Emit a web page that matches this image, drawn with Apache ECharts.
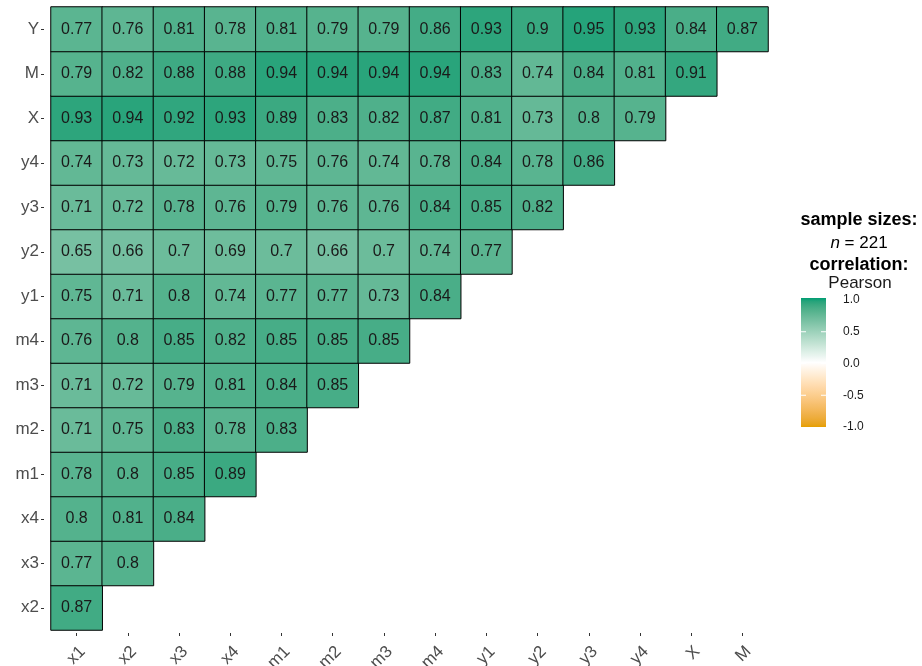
<!DOCTYPE html>
<html><head><meta charset="utf-8">
<script src="https://cdn.jsdelivr.net/npm/echarts@6/dist/echarts.min.js"></script>
<style>html,body{margin:0;padding:0;background:#fff}#c{width:922px;height:666px}</style>
</head><body><div id="c"></div>
<script>
const xCats = ['x1','x2','x3','x4','m1','m2','m3','m4','y1','y2','y3','y4','X','M'];
const yCats = ['x2','x3','x4','m1','m2','m3','m4','y1','y2','y3','y4','X','M','Y'];
const rowY  = [0.77,0.76,0.81,0.78,0.81,0.79,0.79,0.86,0.93,0.9,0.95,0.93,0.84,0.87];
const rowM  = [0.79,0.82,0.88,0.88,0.94,0.94,0.94,0.94,0.83,0.74,0.84,0.81,0.91];
const rowX  = [0.93,0.94,0.92,0.93,0.89,0.83,0.82,0.87,0.81,0.73,0.8,0.79];
const rowY4 = [0.74,0.73,0.72,0.73,0.75,0.76,0.74,0.78,0.84,0.78,0.86];
const rowY3 = [0.71,0.72,0.78,0.76,0.79,0.76,0.76,0.84,0.85,0.82];
const rowY2 = [0.65,0.66,0.7,0.69,0.7,0.66,0.7,0.74,0.77];
const rowY1 = [0.75,0.71,0.8,0.74,0.77,0.77,0.73,0.84];
const rowM4 = [0.76,0.8,0.85,0.82,0.85,0.85,0.85];
const rowM3 = [0.71,0.72,0.79,0.81,0.84,0.85];
const rowM2 = [0.71,0.75,0.83,0.78,0.83];
const rowM1 = [0.78,0.8,0.85,0.89];
const rowX4 = [0.8,0.81,0.84];
const rowX3 = [0.77,0.8];
const rowX2 = [0.87];
const legendTicks = ['1.0','0.5','0.0','-0.5','-1.0'];

const rows = {Y:rowY,M:rowM,X:rowX,y4:rowY4,y3:rowY3,y2:rowY2,y1:rowY1,m4:rowM4,m3:rowM3,m2:rowM2,m1:rowM1,x4:rowX4,x3:rowX3,x2:rowX2};
const data = [];
yCats.forEach((yc, yi) => {
  rows[yc].forEach((v, xi) => data.push([xi, yi, v]));
});

// Lab interpolation helpers (ggplot-like gradient)
function hex2rgb(h){return [1,3,5].map(i=>parseInt(h.substr(i,2),16));}
function s2l(c){c/=255;return c<=0.04045?c/12.92:Math.pow((c+0.055)/1.055,2.4);}
function l2s(c){c=c<=0.0031308?12.92*c:1.055*Math.pow(c,1/2.4)-0.055;return Math.max(0,Math.min(255,Math.round(c*255)));}
const WP=[0.95047,1,1.08883];
function f(t){return t>0.008856?Math.cbrt(t):7.787*t+16/116;}
function fi(t){return t>0.206893?t*t*t:(t-16/116)/7.787;}
function rgb2lab(rgb){const [r,g,b]=rgb.map(s2l);
  const X=(0.4124*r+0.3576*g+0.1805*b)/WP[0],Y=(0.2126*r+0.7152*g+0.0722*b)/WP[1],Z=(0.0193*r+0.1192*g+0.9505*b)/WP[2];
  return [116*f(Y)-16,500*(f(X)-f(Y)),200*(f(Y)-f(Z))];}
function lab2hex(L,a,b){const fy=(L+16)/116,fx=fy+a/500,fz=fy-b/200;
  const X=fi(fx)*WP[0],Y=fi(fy)*WP[1],Z=fi(fz)*WP[2];
  const r=3.2406*X-1.5372*Y-0.4986*Z,g=-0.9689*X+1.8758*Y+0.0415*Z,bb=0.0557*X-0.2040*Y+1.0570*Z;
  return '#'+[r,g,bb].map(l2s).map(v=>v.toString(16).padStart(2,'0')).join('');}
function labRamp(c1,c2,n){const A=rgb2lab(hex2rgb(c1)),B=rgb2lab(hex2rgb(c2));const out=[];
  for(let i=0;i<=n;i++){const t=i/n;out.push(lab2hex(A[0]+(B[0]-A[0])*t,A[1]+(B[1]-A[1])*t,A[2]+(B[2]-A[2])*t));}return out;}
const lowCol='#E69F00', midCol='#FFFFFF', highCol='#009E73';
const ramp = labRamp(lowCol,midCol,20).concat(labRamp(midCol,highCol,20).slice(1));

const FONT = '"Liberation Sans", Arial, sans-serif';
const chart = echarts.init(document.getElementById('c'));

// legend graphics
const barX = 801, barTop = 298, barH = 129, barW = 25;
const gradStops = ramp.slice().reverse().map((c,i,arr)=>({offset:i/(arr.length-1), color:c}));
const g = [
  {type:'text', style:{x:859, y:220, text:'sample sizes:', font:'bold 18px '+FONT, fill:'#000', align:'center', verticalAlign:'middle'}},
  {type:'text', style:{x:859, y:243, rich:{i:{fontStyle:'italic', fontSize:17, fontFamily:FONT, fill:'#000'}, n:{fontSize:17, fontFamily:FONT, fill:'#000'}}, text:'{i|n}{n| = 221}', align:'center', verticalAlign:'middle'}},
  {type:'text', style:{x:859, y:265, text:'correlation:', font:'bold 18px '+FONT, fill:'#000', align:'center', verticalAlign:'middle'}},
  {type:'text', style:{x:860, y:283, text:'Pearson', font:'17px '+FONT, fill:'#1a1a1a', align:'center', verticalAlign:'middle'}},
  {type:'rect', shape:{x:barX, y:barTop, width:barW, height:barH}, style:{fill:new echarts.graphic.LinearGradient(0,0,0,1,gradStops)}}
];
legendTicks.forEach((t, i) => {
  const y = barTop + 2 + i * (barH - 2) / 4;
  g.push({type:'text', style:{x:843, y:y, text:t, font:'12px '+FONT, fill:'#1a1a1a', align:'left', verticalAlign:'middle'}});
  if (i > 0 && i < 4) {
    g.push({type:'line', shape:{x1:barX, y1:y, x2:barX+5, y2:y}, style:{stroke:'#fff', lineWidth:1}});
    g.push({type:'line', shape:{x1:barX+barW-5, y1:y, x2:barX+barW, y2:y}, style:{stroke:'#fff', lineWidth:1}});
  }
});

chart.setOption({
  animation:false,
  backgroundColor:'#fff',
  grid:{left:51, right:154, top:7, bottom:36, containLabel:false, outerBoundsMode:'none'},
  xAxis:{type:'category', data:xCats, offset:3, axisLine:{show:false}, splitLine:{show:false},
    axisTick:{show:true, alignWithLabel:true, length:3, lineStyle:{color:'#333'}},
    axisLabel:{rotate:45, fontSize:17, color:'#4D4D4D', fontFamily:FONT, margin:10, align:'right', verticalAlign:'top'}},
  yAxis:{type:'category', data:yCats, offset:7, axisLine:{show:false}, splitLine:{show:false},
    axisTick:{show:true, alignWithLabel:true, length:3, lineStyle:{color:'#333'}},
    axisLabel:{fontSize:17, color:'#4D4D4D', fontFamily:FONT, margin:5}},
  visualMap:{show:false, min:-1, max:1, dimension:2, inRange:{color:ramp}},
  series:[{type:'heatmap', data:data,
    itemStyle:{borderColor:'#000', borderWidth:1},
    label:{show:true, fontSize:16, fontFamily:FONT, color:'#1a1a1a', formatter:p=>String(p.value[2])}}],
  graphic:g
});
</script></body></html>
